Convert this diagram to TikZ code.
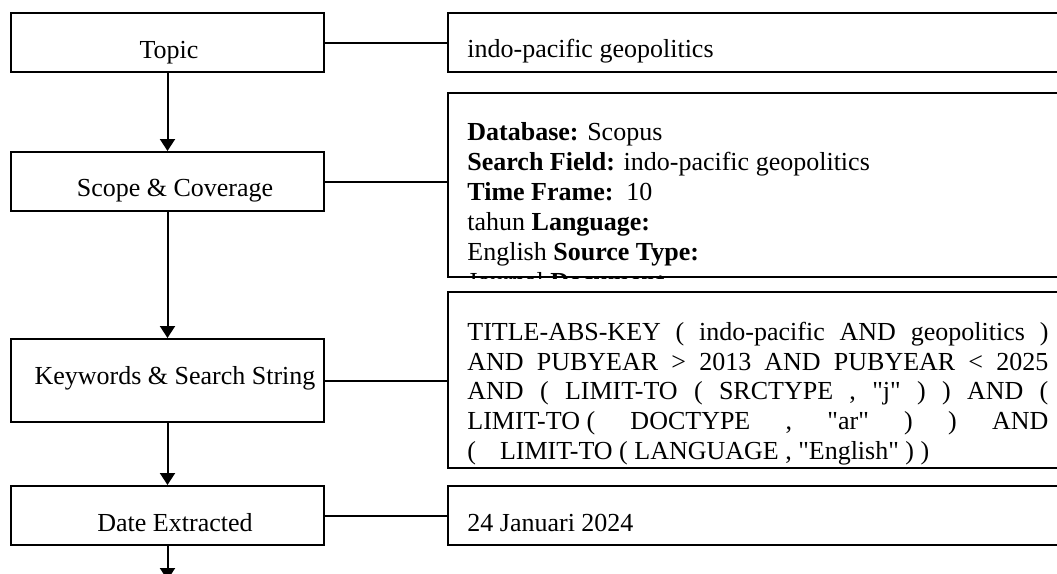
\documentclass[tikz,border=0pt]{standalone}
\usepackage{fontspec}
\setmainfont{Liberation Serif}
\newfontfamily\plainserif{Liberation Serif}
\usetikzlibrary{arrows.meta}
\begin{document}
\begin{tikzpicture}[x=0.5pt,y=-0.5pt,
  box/.style={draw=black, line width=1pt, inner sep=0pt, rectangle},
  lbox/.style={box, minimum width=156.5pt},
  rbox/.style={box, minimum width=307pt},
  lefttext/.style={inner sep=0pt, anchor=base, font=\fontsize{13}{16}\selectfont},
  righttext/.style={inner sep=0pt, anchor=base west, font=\fontsize{13}{16}\selectfont},
  kwtext/.style={righttext, font=\plainserif\fontsize{13}{16}\selectfont},
  link/.style={line width=1pt},
  arr/.style={line width=1pt, -{Triangle[length=6pt,width=7.5pt]}}]
\useasboundingbox (0,0) rectangle (1057,574);
\clip (0,0) rectangle (1057,574);

% left column
\node[lbox, minimum height=29.5pt] (topicL) at (167.5,42.5) {};
\node[lbox, minimum height=29.5pt] (scopeL) at (167.5,181.5) {};
\node[lbox, minimum height=41.5pt] (kwL) at (167.5,380.5) {};
\node[lbox, minimum height=29.5pt] (dateL) at (167.5,515.5) {};

\node[lefttext] (topicT) at (169,58) {Topic};
\node[lefttext] (scopeT) at (175,196) {Scope \& Coverage};
\node[lefttext] (kwT) at (175,384) {Keywords \& Search String};
\node[lefttext] (dateT) at (175,531) {Date Extracted};

% right column
\node[rbox, minimum height=29.5pt] (topicR) at (755,42.5) {};
\node[rbox, minimum height=92pt] (scopeR) at (755,185) {};
\node[rbox, minimum height=88pt] (kwR) at (755,380) {};
\node[rbox, minimum height=29.5pt] (dateR) at (755,515.5) {};

\node[righttext] (topicV) at (467,57) {indo-pacific geopolitics};
\node[righttext] (dateV) at (467,531) {24 Januari 2024};

\begin{scope}
\clip (scopeR.north west) rectangle (scopeR.south east);
\node[righttext] (s1) at (467,140.5) {\textbf{Database:} Scopus};
\node[righttext] (s2) at (467,170.5) {\textbf{Search Field:} indo-pacific geopolitics};
\node[righttext] (s3) at (467,200.5) {\textbf{Time Frame:}\ \ 10};
\node[righttext] (s4) at (467,230.5) {tahun \textbf{Language:}};
\node[righttext] (s5) at (467,260.5) {English \textbf{Source Type:}};
\node[righttext] (s6) at (467,290.5) {Journal \textbf{Document}};
\end{scope}

\begin{scope}
\clip (kwR.north west) rectangle (kwR.south east);
\node[kwtext] (k1) at (467,340.5) {\makebox[290.5pt][s]{TITLE-ABS-KEY ( indo-pacific AND geopolitics )}};
\node[kwtext] (k2) at (467,370) {\makebox[290.5pt][s]{AND PUBYEAR > 2013 AND PUBYEAR < 2025}};
\node[kwtext] (k3) at (467,399.7) {\makebox[290.5pt][s]{AND ( LIMIT-TO ( SRCTYPE , "j" ) ) AND (}};
\node[kwtext] (k4) at (467,429.3) {\makebox[290.5pt][s]{\mbox{LIMIT-TO (} DOCTYPE , "ar" ) ) AND}};
\node[kwtext] (k5) at (467,459) {(\hspace{12pt}LIMIT-TO ( LANGUAGE , "English" ) )};
\end{scope}

% connectors
\draw[link] (topicL.east) -- (topicL.east -| topicR.west);
\draw[link] (scopeL.east) -- (scopeL.east -| scopeR.west);
\draw[link] (kwL.east) -- (kwL.east -| kwR.west);
\draw[link] (dateL.east) -- (dateL.east -| dateR.west);

\draw[arr] (topicL.south) -- (scopeL.north);
\draw[arr] (scopeL.south) -- (kwL.north);
\draw[arr] (kwL.south) -- (dateL.north);
\coordinate (next) at (167.5,580);
\draw[arr] (dateL.south) -- (next);
\end{tikzpicture}
\end{document}
